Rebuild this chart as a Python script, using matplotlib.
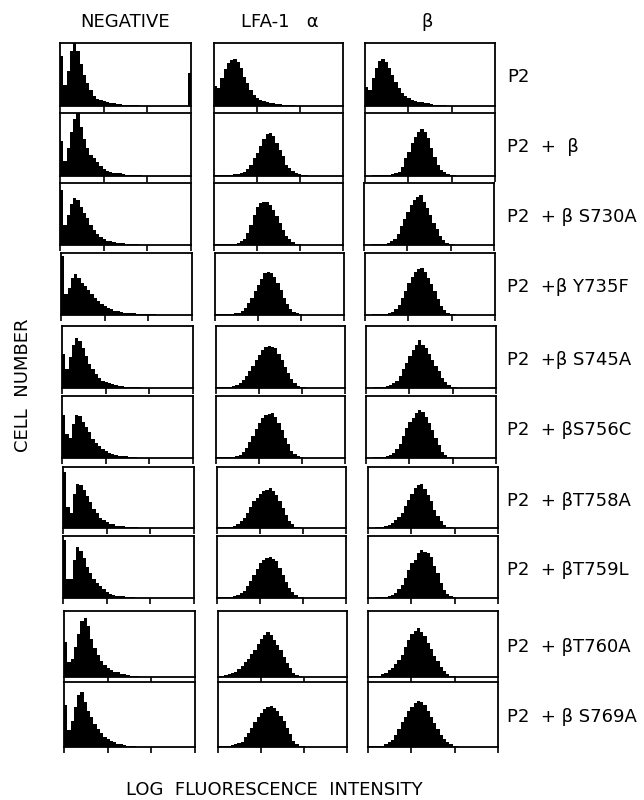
"""
Flow cytometry panels: LFA-1 alpha / beta surface staining of P2 cells
transfected with beta-chain point mutants (histograms, 10 rows x 3 columns).
"""
import matplotlib.pyplot as plt
import numpy as np

plt.rcParams['font.family'] = ['DejaVu Sans']

W, H = 644, 800
NBINS = 40  # log-fluorescence channels grouped into 40 bins

col_titles = ['NEGATIVE', 'LFA-1   α', 'β']
row_labels = ['P2', 'P2  +  β', 'P2  + β S730A', 'P2  +β Y735F', 'P2  +β S745A',
              'P2  + βS756C', 'P2  + βT758A', 'P2  + βT759L', 'P2  + βT760A',
              'P2  + β S769A']

# bin heights (% of panel height); trailing bins are empty
NEG = [
    [80, 34, 55, 88, 100, 88, 66, 50, 36, 25, 16, 11, 9, 8, 6, 5, 4, 3, 3, 2,
     2, 1, 1, 1, 0, 0, 0, 0, 0, 0, 0, 0, 0, 0, 0, 0, 0, 0, 0, 52],
    [55, 24, 45, 70, 90, 100, 78, 58, 44, 34, 28, 22, 16, 11, 8, 6, 5, 4, 4, 3, 2, 2, 1, 1, 1],
    [88, 32, 48, 66, 76, 72, 62, 52, 44, 32, 24, 17, 13, 9, 7, 6, 5, 4, 3, 3, 2, 2, 1, 1],
    [95, 34, 44, 60, 66, 60, 52, 46, 40, 34, 28, 22, 17, 14, 11, 9, 7, 6, 5, 4,
     4, 3, 3, 2, 2, 2, 1, 1, 1],
    [55, 30, 50, 70, 80, 76, 64, 52, 38, 30, 22, 16, 12, 9, 8, 6, 5, 4, 3, 2, 2, 1, 1, 1],
    [70, 38, 32, 55, 70, 68, 58, 50, 42, 30, 24, 19, 14, 11, 8, 6, 5, 4, 3, 3, 2, 1, 1],
    [92, 35, 24, 55, 72, 70, 62, 52, 42, 31, 24, 17, 13, 10, 7, 6, 4, 4, 3, 2, 2, 1, 1],
    [94, 30, 30, 62, 82, 76, 64, 50, 40, 30, 24, 19, 14, 10, 7, 5, 4, 3, 3, 2, 1, 1],
    [53, 22, 28, 45, 65, 85, 90, 78, 58, 44, 34, 24, 18, 13, 10, 8, 7, 5, 4, 3, 2, 1, 1],
    [65, 26, 40, 62, 80, 84, 70, 56, 46, 36, 28, 22, 16, 12, 9, 7, 5, 4, 3, 2, 1, 1],
]

ALPHA = [
    [32, 28, 45, 58, 68, 73, 74, 70, 60, 46, 36, 25, 18, 13, 10, 8, 6, 5, 4, 3, 3, 2, 2, 1, 1],
    [1, 1, 1, 1, 2, 2, 3, 3, 4, 6, 11, 18, 28, 36, 48, 58, 66, 69, 63, 52, 42, 32, 18, 12, 8, 4, 3, 1, 1],
    [1, 1, 1, 1, 1, 2, 2, 3, 6, 10, 20, 32, 48, 62, 68, 70, 69, 64, 56, 46, 36, 24, 15, 9, 5, 2, 1],
    [1, 1, 1, 1, 1, 2, 3, 4, 7, 12, 20, 28, 38, 48, 58, 68, 70, 68, 62, 52, 40, 28, 18, 10, 5, 3, 1],
    [1, 1, 1, 2, 2, 3, 5, 8, 13, 20, 27, 36, 45, 53, 61, 66, 68, 66, 64, 55, 45, 34, 24, 14, 8, 4, 2, 1],
    [1, 1, 1, 1, 1, 2, 3, 5, 9, 16, 26, 36, 46, 56, 64, 69, 71, 72, 66, 56, 45, 33, 22, 12, 6, 3, 1],
    [1, 1, 1, 1, 2, 4, 7, 11, 16, 24, 34, 44, 50, 56, 60, 63, 65, 60, 54, 44, 32, 22, 12, 6, 2, 1],
    [1, 1, 1, 1, 2, 3, 5, 8, 12, 19, 28, 37, 46, 56, 62, 65, 66, 63, 59, 48, 37, 26, 16, 9, 5, 2, 1],
    [1, 2, 3, 4, 6, 8, 12, 16, 22, 28, 35, 41, 50, 58, 63, 68, 63, 56, 48, 41, 30, 21, 13, 6, 3, 1],
    [1, 1, 1, 2, 3, 4, 6, 8, 15, 22, 30, 38, 46, 53, 59, 62, 63, 60, 56, 48, 40, 30, 20, 10, 5, 2, 1],
]

BETA = [
    [30, 25, 45, 60, 72, 75, 70, 60, 50, 38, 28, 20, 16, 13, 10, 8, 7, 6, 5, 5, 3, 2, 2, 1, 1],
    [0, 0, 1, 1, 1, 1, 1, 2, 3, 4, 7, 15, 28, 38, 52, 62, 70, 75, 70, 60, 44, 30, 18, 10, 6, 3, 2, 1],
    [0, 0, 1, 1, 1, 1, 2, 4, 6, 10, 18, 30, 42, 54, 64, 72, 78, 80, 70, 60, 48, 36, 26, 14, 8, 4, 2, 1],
    [0, 0, 1, 1, 1, 1, 2, 3, 5, 9, 16, 28, 38, 52, 62, 70, 74, 76, 70, 60, 50, 38, 26, 14, 8, 4, 2, 1],
    [0, 0, 1, 1, 1, 2, 3, 5, 8, 12, 19, 30, 40, 52, 61, 70, 77, 70, 64, 55, 45, 36, 27, 16, 10, 5, 2, 1],
    [0, 0, 1, 1, 1, 1, 3, 5, 8, 14, 22, 36, 48, 58, 64, 72, 78, 74, 66, 56, 45, 33, 21, 10, 5, 2, 1],
    [0, 0, 1, 1, 2, 3, 5, 8, 13, 18, 24, 36, 46, 56, 66, 70, 72, 64, 54, 44, 30, 20, 11, 5, 2, 1],
    [0, 0, 1, 1, 1, 2, 4, 5, 8, 14, 21, 32, 45, 56, 62, 72, 78, 74, 72, 66, 52, 40, 24, 13, 7, 3, 1],
    [1, 1, 1, 2, 4, 6, 10, 14, 20, 26, 34, 46, 56, 65, 70, 75, 68, 62, 52, 42, 32, 24, 15, 9, 4, 2, 1],
    [1, 1, 1, 1, 2, 5, 8, 11, 18, 28, 38, 46, 55, 62, 68, 71, 70, 64, 56, 46, 37, 27, 18, 12, 8, 4, 2, 1],
]

# panel geometry in pixels (scan is slightly skewed, so columns drift right)
row_tops = [43, 113, 183, 253, 326, 396, 467, 536, 611, 682]
row_heights = [63, 63, 62, 62, 62, 62, 61, 62, 66, 65]
col_lefts = [
    [60, 60, 60, 61, 62, 62, 63, 63, 64, 64],
    [214, 214, 214, 215, 216, 216, 217, 217, 218, 218],
    [365, 365, 364, 365, 366, 366, 368, 368, 368, 368],
]
col_widths = [131, 129, 130]
col_title_x = [125, 280, 427]


def draw_panel(fig, left, top, width, height, values):
    ax = fig.add_axes([left / W, 1 - (top + height) / H, width / W, height / H])
    counts = np.zeros(NBINS)
    counts[:len(values)] = values
    ax.stairs(counts, np.arange(NBINS + 1), fill=True, color='black')
    ax.set_xlim(0, NBINS)
    ax.set_ylim(0, 100)
    ax.set_xticks(np.linspace(0, NBINS, 4))
    ax.set_xticklabels([])
    ax.set_yticks([])
    ax.tick_params(axis='x', direction='out', length=4, width=1.2, color='black')
    for spine in ax.spines.values():
        spine.set_linewidth(1.3)
        spine.set_color('black')
    return ax


fig = plt.figure(figsize=(W / 100, H / 100), dpi=100)

for r in range(len(row_labels)):
    for c, column in enumerate((NEG, ALPHA, BETA)):
        draw_panel(fig, col_lefts[c][r], row_tops[r], col_widths[c],
                   row_heights[r], column[r])
    y_mid = row_tops[r] + row_heights[r] / 2 + 3
    fig.text(507 / W, 1 - y_mid / H, row_labels[r], ha='left', va='center',
             fontsize=13)

for c, title in enumerate(col_titles):
    fig.text(col_title_x[c] / W, 1 - 22 / H, title, ha='center', va='center',
             fontsize=13)

fig.text(23 / W, 1 - 385 / H, 'CELL  NUMBER', rotation=90, ha='center',
         va='center', fontsize=13)
fig.text(274 / W, 1 - 790 / H, 'LOG  FLUORESCENCE  INTENSITY', ha='center',
         va='center', fontsize=13)

fig.savefig('out.png', dpi=100)
plt.close(fig)
